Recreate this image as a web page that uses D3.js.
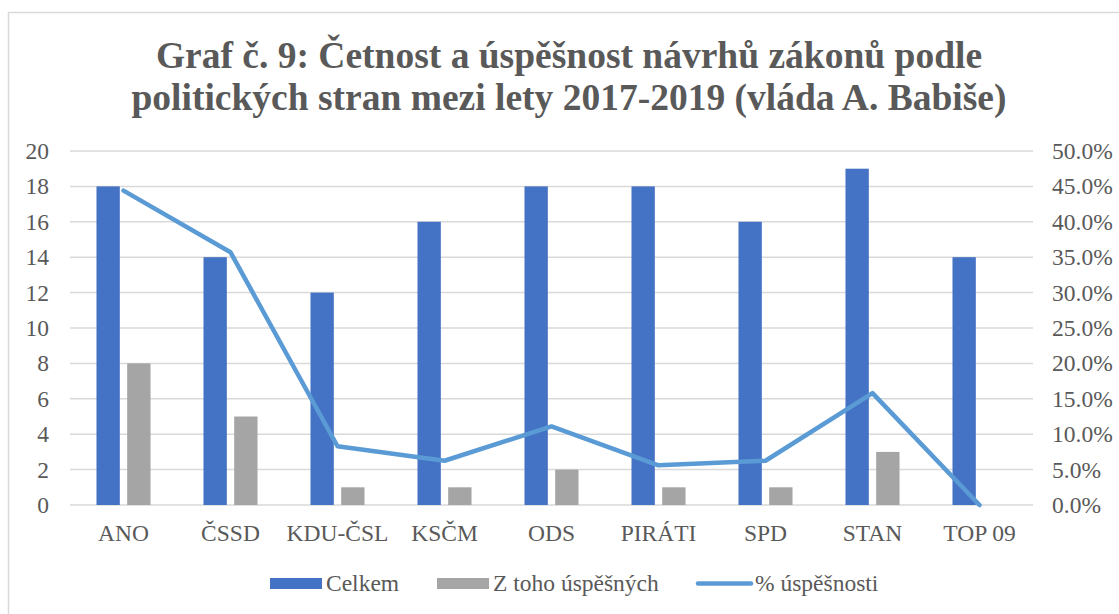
<!DOCTYPE html>
<html>
<head>
<meta charset="utf-8">
<script src="https://cdn.jsdelivr.net/npm/d3@7"></script>
<style>
  body { margin: 0; background: #fff; }
</style>
</head>
<body>
<div id="chart"></div>
<script>
// data
const categories = ["ANO", "ČSSD", "KDU-ČSL", "KSČM", "ODS", "PIRÁTI", "SPD", "STAN", "TOP 09"];
const celkem = [18, 14, 12, 16, 18, 18, 16, 19, 14];
const uspesnych = [8, 5, 1, 1, 2, 1, 1, 3, 0];
const uspesnost = [0.444, 0.357, 0.083, 0.0625, 0.111, 0.056, 0.0625, 0.158, 0];
const leftTicks = [0, 2, 4, 6, 8, 10, 12, 14, 16, 18, 20];
const rightTicks = [0, 0.05, 0.1, 0.15, 0.2, 0.25, 0.3, 0.35, 0.4, 0.45, 0.5];
const titleLines = [
  "Graf č. 9: Četnost a úspěšnost návrhů zákonů podle",
  "politických stran mezi lety 2017-2019 (vláda A. Babiše)"
];

const width = 1119, height = 614;
const plotLeft = 70, plotRight = 1033, plotTop = 151, plotBottom = 505;
const serif = "'Liberation Serif', 'Times New Roman', serif";
const labelFont = "font-family: " + serif + "; font-size: 23.5px; fill: #595959";
const blue = "#4472c4", gray = "#a5a5a5", lineBlue = "#5b9bd5", gridColor = "#d9d9d9";

const svg = d3.select("#chart").append("svg")
  .attr("width", width)
  .attr("height", height);

// chart border
svg.append("rect")
  .attr("x", 8.5).attr("y", 12.5)
  .attr("width", width).attr("height", height)
  .attr("fill", "none")
  .attr("stroke", gridColor)
  .attr("stroke-width", 1.5);

// title
svg.append("text")
  .attr("text-anchor", "middle")
  .attr("style", "font-family: " + serif + "; font-weight: bold; font-size: 37.5px; fill: #595959")
  .selectAll("tspan").data(titleLines).enter().append("tspan")
  .attr("x", 569)
  .attr("y", (d, i) => 68 + i * 42)
  .text(d => d);

// scales
const x0 = d3.scaleBand().domain(categories).range([plotLeft, plotRight]).padding(0);
const groupW = x0.bandwidth() * 0.505;
const x1 = d3.scaleBand().domain(["celkem", "uspesnych"])
  .range([-groupW / 2, groupW / 2]).paddingInner(0.24);
const yL = d3.scaleLinear().domain([0, 20]).range([plotBottom, plotTop]);
const yR = d3.scaleLinear().domain([0, 0.5]).range([plotBottom, plotTop]);

// gridlines
svg.append("g").selectAll("line").data(leftTicks).enter().append("line")
  .attr("x1", plotLeft).attr("x2", plotRight)
  .attr("y1", d => yL(d)).attr("y2", d => yL(d))
  .attr("stroke", gridColor)
  .attr("stroke-width", 1.5);

// left axis labels
svg.append("g").selectAll("text").data(leftTicks).enter().append("text")
  .attr("x", 49)
  .attr("y", d => yL(d))
  .attr("dy", "0.34em")
  .attr("text-anchor", "end")
  .attr("style", labelFont)
  .text(d => d);

// right axis labels
svg.append("g").selectAll("text").data(rightTicks).enter().append("text")
  .attr("x", 1052)
  .attr("y", d => yR(d))
  .attr("dy", "0.34em")
  .attr("text-anchor", "start")
  .attr("style", labelFont)
  .text(d => d3.format(".1%")(d));

// bars
const rows = categories.map((c, i) => ({ cat: c, celkem: celkem[i], uspesnych: uspesnych[i], pct: uspesnost[i] }));
const barColors = { celkem: blue, uspesnych: gray };
const groups = svg.append("g").selectAll("g").data(rows).enter().append("g")
  .attr("transform", d => "translate(" + (x0(d.cat) + x0.bandwidth() / 2) + ",0)");
groups.selectAll("rect")
  .data(d => ["celkem", "uspesnych"].map(k => ({ key: k, value: d[k] })))
  .enter().append("rect")
  .attr("x", d => x1(d.key))
  .attr("width", x1.bandwidth())
  .attr("y", d => yL(d.value))
  .attr("height", d => yL(0) - yL(d.value))
  .attr("fill", d => barColors[d.key]);

// category labels
svg.append("g").selectAll("text").data(categories).enter().append("text")
  .attr("x", d => x0(d) + x0.bandwidth() / 2)
  .attr("y", 541)
  .attr("text-anchor", "middle")
  .attr("style", labelFont)
  .text(d => d);

// success line
const line = d3.line()
  .x(d => x0(d.cat) + x0.bandwidth() / 2)
  .y(d => yR(d.pct));
svg.append("path")
  .datum(rows)
  .attr("d", line)
  .attr("fill", "none")
  .attr("stroke", lineBlue)
  .attr("stroke-width", 4.5)
  .attr("stroke-linejoin", "round")
  .attr("stroke-linecap", "round");

// legend
const legend = svg.append("g");
legend.append("rect").attr("x", 270).attr("y", 578).attr("width", 52).attr("height", 11).attr("fill", blue);
legend.append("text").attr("x", 326).attr("y", 591).attr("style", labelFont).text("Celkem");
legend.append("rect").attr("x", 437).attr("y", 578).attr("width", 52).attr("height", 11).attr("fill", gray);
legend.append("text").attr("x", 493).attr("y", 591).attr("style", labelFont).text("Z toho úspěšných");
legend.append("line").attr("x1", 698).attr("x2", 751).attr("y1", 583.5).attr("y2", 583.5)
  .attr("stroke", lineBlue).attr("stroke-width", 4.5).attr("stroke-linecap", "round");
legend.append("text").attr("x", 755).attr("y", 591).attr("style", labelFont).text("% úspěšnosti");
</script>
</body>
</html>
